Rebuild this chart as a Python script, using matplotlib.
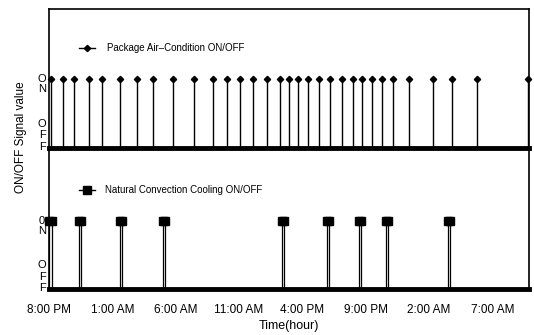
import numpy as np
import matplotlib as mpl
import matplotlib.pyplot as plt

# hours after 8:00 PM at which the signals switch ON
ac_on_hours = [0.12, 1.07, 2.01, 3.12, 4.22, 5.64, 6.91, 8.25, 9.83, 11.48,
               12.98, 14.09, 15.11, 16.14, 17.24, 18.27, 18.98, 19.69, 20.48,
               21.35, 22.22, 23.16, 24.03, 24.74, 25.53, 26.32, 27.19, 28.45,
               30.35, 31.85, 33.82, 37.85]
ncc_on_hours = [0.0, 2.35, 5.58, 8.98, 18.37, 21.92, 24.45, 26.58, 31.47]
ncc_on_length = 0.2   # hours each natural convection pulse stays ON

tick_hours = [0, 5, 10, 15, 20, 25, 30, 35]
tick_labels = ['8:00 PM', '1:00 AM', '6:00 AM', '11:00 AM',
               '4:00 PM', '9:00 PM', '2:00 AM', '7:00 AM']

ac_label = 'Package Air\u2013Condition ON/OFF'
ncc_label = 'Natural Convection Cooling ON/OFF'

mpl.rcParams['font.family'] = ['Liberation Sans', 'DejaVu Sans']

picW, picH = 5.34, 3.35
fig = plt.figure(figsize=(picW, picH), dpi=100)

#axes positions (pixels -> figure fraction)
x0 = 49/534.
w = 480/534.
axTop = fig.add_axes([x0, (335-148)/335., w, 139/335.])
axBot = fig.add_axes([x0, (335-289)/335., w, 141/335.])

xmax = 37.9

def style_axes(ax, top_spine):
    ax.set_xlim(0, xmax)
    ax.set_yticks([])
    ax.patch.set_visible(False)
    for s in ['left', 'right', 'top']:
        ax.spines[s].set_linewidth(1.2)
    ax.spines['top'].set_visible(top_spine)
    ax.spines['bottom'].set_linewidth(3.5)
    ax.tick_params(axis='x', length=0, pad=11, labelsize=8.5)

#top panel: package air conditioner
style_axes(axTop, True)
axTop.set_ylim(0, 2.01)
axTop.set_xticks([])
axTop.vlines(ac_on_hours, 0, 1, color='black', linewidth=1.0, clip_on=False)
axTop.plot(ac_on_hours, np.ones(len(ac_on_hours)), linestyle='none',
           marker='D', markersize=3.2, color='black', clip_on=False)
#legend proxy
axTop.plot([], [], color='black', linewidth=1.0, marker='D', markersize=3.2,
           label=ac_label)
axTop.legend(loc='center left', bbox_to_anchor=(0.045, 0.72), frameon=False,
             fontsize=7, handlelength=1.6, handletextpad=1.2)

#bottom panel: natural convection cooling
style_axes(axBot, False)
axBot.set_ylim(0, 2.07)
for t in ncc_on_hours:
    xs = [t, t, t + ncc_on_length, t + ncc_on_length]
    ys = [0, 1, 1, 0]
    axBot.plot(xs, ys, color='black', linewidth=0.9, clip_on=False)
    axBot.plot(xs[1:3], ys[1:3], linestyle='none', marker='s',
               markersize=5.5, color='black', clip_on=False)
axBot.plot([], [], color='black', linewidth=1.0, marker='s', markersize=5.5,
           label=ncc_label)
axBot.legend(loc='center left', bbox_to_anchor=(0.045, 0.70), frameon=False,
             fontsize=7, handlelength=1.6, handletextpad=1.0)
axBot.set_xticks(tick_hours)
axBot.set_xticklabels(tick_labels)
axBot.set_xlabel('Time(hour)', fontsize=9, labelpad=3)

#stacked letters used as y tick labels
for ax, on_txt in [(axTop, 'O\nN'), (axBot, '0\nN')]:
    ax.annotate(on_txt, xy=(0, 1), xycoords=('axes fraction', 'data'),
                xytext=(-5, -3.5), textcoords='offset points',
                ha='center', va='center', fontsize=8, linespacing=1.0)
    ax.annotate('O\nF\nF', xy=(0, 0), xycoords=('axes fraction', 'data'),
                xytext=(-5, 9), textcoords='offset points',
                ha='center', va='center', fontsize=8, linespacing=1.2)

fig.text(21/534., 1 - 137/335., 'ON/OFF Signal value', rotation=90,
         ha='center', va='center', fontsize=8.5)

plt.savefig('out.png', dpi=100)
